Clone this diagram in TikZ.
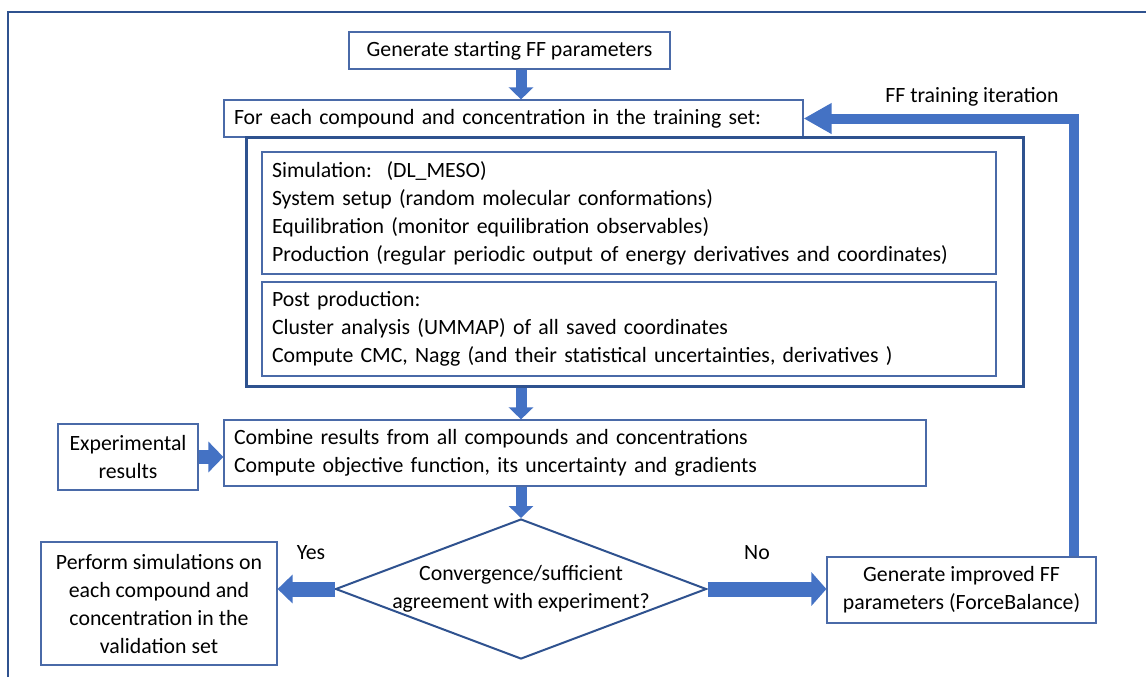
\documentclass[tikz,border=0pt]{standalone}
\usepackage{fontspec}
\setmainfont{Carlito}
\usetikzlibrary{arrows.meta,positioning,calc,shapes.geometric}
\definecolor{frameblue}{HTML}{2F528F}
\definecolor{arrowblue}{HTML}{4472C4}
\definecolor{boxline}{HTML}{4A6AA8}
\newcommand{\boxfont}{\fontsize{10.9}{14}\selectfont}

\begin{document}
\begin{tikzpicture}[x=0.5pt,y=-0.5pt,
  box/.style={draw=boxline,line width=.6pt,fill=white,inner xsep=5pt,inner ysep=0pt,
              font=\boxfont},
  lbox/.style={box,align=left},
  cbox/.style={box,align=center},
  simframe/.style={draw=frameblue,line width=1.5pt},
  decision/.style={diamond,draw=frameblue,line width=1pt,fill=white,inner sep=0pt,
                   minimum width=185.5pt,minimum height=70pt},
  lbl/.style={font=\boxfont,inner sep=0pt},
  down/.style={draw=arrowblue,line width=5.5pt,-{Triangle[length=6pt,width=12pt]}},
  side/.style={draw=arrowblue,line width=7.5pt,-{Triangle[length=7.5pt,width=15pt]}},
  loop/.style={draw=arrowblue,line width=5pt,-{Triangle[length=14pt,width=14.5pt]}}
]
  \useasboundingbox (0,0) rectangle (1146,677);
  \draw[frameblue,line width=1.1pt] (8,677) -- (8,12) -- (1146,12);

  \coordinate (axis) at (521,0);
  \coordinate (fbx) at (1074,0);

  \node[cbox,minimum width=160.5pt,minimum height=18.5pt] (gen) at (509.5,50.5)
    {Generate starting FF parameters};
  \node[lbox,text width=279.5pt,minimum height=18.5pt] (each) at (513.5,118.5)
    {For each compound and concentration in the training set:};
  \node[simframe,minimum width=388.5pt,minimum height=124.5pt] (loopframe) at (634.5,261.5) {};
  \node[lbox,text width=357pt,minimum height=61pt] (sim) at (629,213)
    {Simulation:~~(DL\_MESO)\\
     System setup (random molecular conformations)\\
     Equilibration (monitor equilibration observables)\\
     Production (regular periodic output of energy derivatives and coordinates)};
  \node[lbox,text width=357pt,minimum height=47pt] (post) at (629,329)
    {Post production:\\
     Cluster analysis (UMMAP) of all saved coordinates\\
     Compute CMC, Nagg (and their statistical uncertainties, derivatives )};
  \node[lbox,text width=341pt,minimum height=33pt] (combine) at (575,453)
    {Combine results from all compounds and concentrations\\
     Compute objective function, its uncertainty and gradients};
  \node[cbox,minimum width=70pt,minimum height=33pt] (exp) at (128,457)
    {Experimental\\results};
  \node[decision] (conv) at (521,589) {};
  \node[lbl,align=center] (convtxt) at (conv) {Convergence/sufficient\\agreement with experiment?};
  \node[cbox,minimum width=118pt,minimum height=61.5pt] (perform) at (159,603.5)
    {Perform simulations on\\each compound and\\concentration in the\\validation set};
  \node[cbox,minimum width=134.5pt,minimum height=33pt] (improved) at (961.5,590)
    {Generate improved FF\\parameters (ForceBalance)};

  \node[lbl] (yes) at (311,553) {Yes};
  \node[lbl] (no) at (757,553) {No};
  \node[lbl] (iter) at (972,97) {FF training iteration};

  \draw[down] (gen.south -| axis) -- (each.north -| axis);
  \draw[down] (loopframe.south -| axis) -- (combine.north -| axis);
  \draw[down] (combine.south -| axis) -- (conv.north);
  \draw[side,line width=7pt] (exp.east) -- (exp.east -| combine.west);
  \draw[side,-{Triangle[length=7.5pt,width=14pt]}] (conv.west) -- (conv.west -| perform.east);
  \draw[side,-{Triangle[length=7.5pt,width=16.5pt]}] (conv.east) -- (conv.east -| improved.west);
  \draw[loop] (improved.north -| fbx) |- (each.east);
\end{tikzpicture}
\end{document}
